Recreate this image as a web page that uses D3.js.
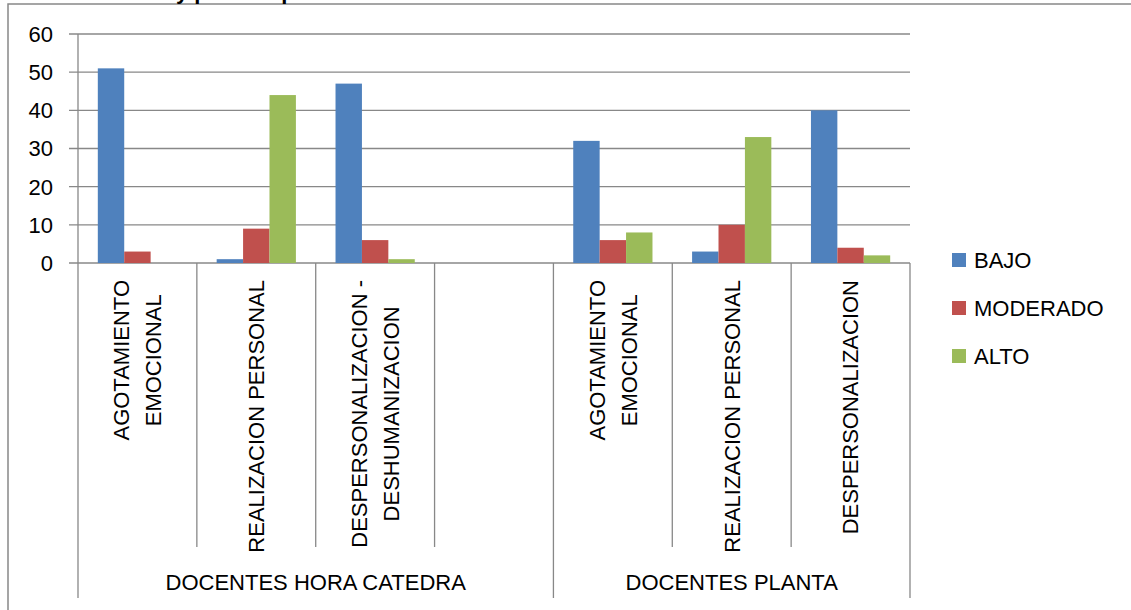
<!DOCTYPE html>
<html>
<head>
<meta charset="utf-8">
<script src="https://cdn.jsdelivr.net/npm/d3@7"></script>
<style>
  body { margin: 0; background: #fff; }
  svg { display: block; }
  text { font-family: "Liberation Sans", Arial, sans-serif; fill: #000; }
</style>
</head>
<body>
<svg id="chart" width="1131" height="610"></svg>
<script>
// categories (one empty slot between the two groups, as in the original sheet)
const categoryLabels = [
  ["AGOTAMIENTO", "EMOCIONAL"],
  ["REALIZACION PERSONAL"],
  ["DESPERSONALIZACION -", "DESHUMANIZACION"],
  [],
  ["AGOTAMIENTO", "EMOCIONAL"],
  ["REALIZACION PERSONAL"],
  ["DESPERSONALIZACION"]
];
const categoryGroup = [0, 0, 0, 0, 1, 1, 1];
const groups = ["DOCENTES HORA CATEDRA", "DOCENTES PLANTA"];

const series = ["BAJO", "MODERADO", "ALTO"];
const bajo     = [51, 1, 47, null, 32, 3, 40];
const moderado = [3, 9, 6, null, 6, 10, 4];
const alto     = [0, 44, 1, null, 8, 33, 2];
const seriesValues = [bajo, moderado, alto];

const yTicks = [0, 10, 20, 30, 40, 50, 60];
const titleText = "y por componente";

const colors = ["#4F81BD", "#C0504D", "#9BBB59"];
const lineColor = "#888888";

const width = 1131, height = 610;
const plot = { left: 78, right: 910, top: 34, bottom: 263 };
const fontSize = 22;

const svg = d3.select("#chart");

// outer frame of the chart object (cut by the picture edges)
svg.append("path")
  .attr("d", `M8,${height} V4 H${width}`)
  .attr("fill", "none")
  .attr("stroke", lineColor)
  .attr("stroke-width", 1.5);

// title, almost completely cut off at the top
svg.append("text")
  .attr("x", 176)
  .attr("y", -1)
  .attr("font-weight", "bold")
  .attr("font-size", 22)
  .text(titleText);

const x = d3.scaleBand()
  .domain(d3.range(categoryLabels.length))
  .range([plot.left, plot.right])
  .padding(0);

const xs = d3.scaleBand()
  .domain(d3.range(series.length))
  .range([0, x.bandwidth()])
  .paddingInner(0)
  .paddingOuter(0.75);

const y = d3.scaleLinear()
  .domain([0, 60])
  .range([plot.bottom, plot.top]);

// gridlines + y ticks
svg.append("g")
  .selectAll("line")
  .data(yTicks)
  .join("line")
  .attr("x1", plot.left - 9)
  .attr("x2", plot.right)
  .attr("y1", d => y(d))
  .attr("y2", d => y(d))
  .attr("stroke", lineColor)
  .attr("stroke-width", 1.3);

svg.append("g")
  .selectAll("text")
  .data(yTicks)
  .join("text")
  .attr("x", 53)
  .attr("y", d => y(d))
  .attr("dy", "0.36em")
  .attr("text-anchor", "end")
  .attr("font-size", fontSize)
  .text(d => d);

// y axis line
svg.append("line")
  .attr("x1", plot.left).attr("x2", plot.left)
  .attr("y1", plot.top).attr("y2", plot.bottom)
  .attr("stroke", lineColor)
  .attr("stroke-width", 1.3);

// bars
const barData = [];
seriesValues.forEach((vals, s) => {
  vals.forEach((v, i) => {
    if (v !== null) barData.push({ s, i, v });
  });
});

svg.append("g")
  .selectAll("rect")
  .data(barData)
  .join("rect")
  .attr("x", d => x(d.i) + xs(d.s))
  .attr("width", xs.bandwidth())
  .attr("y", d => y(d.v))
  .attr("height", d => y(0) - y(d.v))
  .attr("fill", d => colors[d.s]);

// category separator lines
const bounds = d3.range(categoryLabels.length + 1).map(i =>
  i < categoryLabels.length ? x(i) : x(categoryLabels.length - 1) + x.bandwidth());
const isGroupEdge = i => i === 0 || i === categoryLabels.length || categoryGroup[i] !== categoryGroup[i - 1];

svg.append("g")
  .selectAll("line")
  .data(bounds)
  .join("line")
  .attr("x1", d => d).attr("x2", d => d)
  .attr("y1", plot.bottom)
  .attr("y2", (d, i) => isGroupEdge(i) ? 598 : 547)
  .attr("stroke", lineColor)
  .attr("stroke-width", 1.3);

// rotated category labels
const lineHeight = 32;
const labelTop = 280;
categoryLabels.forEach((lines, i) => {
  if (!lines.length) return;
  const cx = x(i) + x.bandwidth() / 2;
  const g = svg.append("g");
  const texts = g.selectAll("text")
    .data(lines)
    .join("text")
    .attr("text-anchor", "middle")
    .attr("dy", "0.36em")
    .attr("font-size", fontSize)
    .text(d => d);
  const maxLen = d3.max(texts.nodes(), n => n.getComputedTextLength());
  const cy = labelTop + maxLen / 2;
  texts.attr("transform", (d, j) =>
    `translate(${cx + (j - (lines.length - 1) / 2) * lineHeight},${cy}) rotate(-90)`);
});

// group labels
svg.append("g")
  .selectAll("text")
  .data(groups)
  .join("text")
  .attr("x", (d, gi) => {
    const idx = d3.range(categoryLabels.length).filter(i => categoryGroup[i] === gi);
    return (x(idx[0]) + x(idx[idx.length - 1]) + x.bandwidth()) / 2;
  })
  .attr("y", 582)
  .attr("dy", "0.36em")
  .attr("text-anchor", "middle")
  .attr("font-size", fontSize)
  .text(d => d);

// legend
const legend = svg.append("g")
  .selectAll("g")
  .data(series)
  .join("g")
  .attr("transform", (d, i) => `translate(952,${260 + i * 48})`);

legend.append("rect")
  .attr("x", 0).attr("y", -7)
  .attr("width", 14).attr("height", 14)
  .attr("fill", (d, i) => colors[i]);

legend.append("text")
  .attr("x", 22)
  .attr("dy", "0.36em")
  .attr("font-size", fontSize)
  .text(d => d);
</script>
</body>
</html>
